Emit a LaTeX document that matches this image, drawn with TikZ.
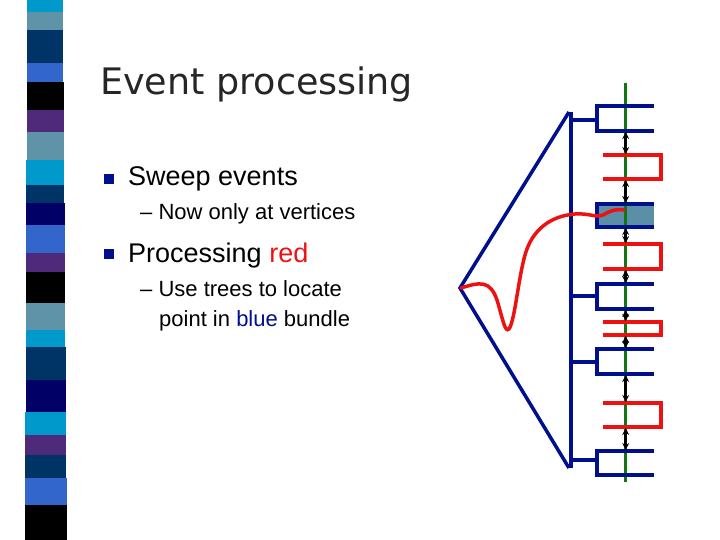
\documentclass[tikz,border=0pt]{standalone}
\usepackage{fontspec}
\usetikzlibrary{arrows.meta}
\setmainfont{Liberation Sans}
\newfontfamily\ttl{DejaVu Sans}
\definecolor{cA}{HTML}{0099CC}\definecolor{cB}{HTML}{5F93A8}\definecolor{cC}{HTML}{003366}
\definecolor{cD}{HTML}{3366CC}\definecolor{cE}{HTML}{000000}\definecolor{cF}{HTML}{4F2A7A}
\definecolor{cG}{HTML}{000066}
\definecolor{bl}{HTML}{000F8C}\definecolor{rd}{HTML}{EE1111}\definecolor{gr}{HTML}{117711}
\definecolor{fillb}{HTML}{5B8FA8}
\begin{document}
\begin{tikzpicture}[x=1pt,y=-1pt,
 bx/.style={draw=bl,line width=3.5pt},
 rx/.style={draw=rd,line width=3.5pt},
 dar/.style={black,line width=2.5pt,{Stealth[length=7pt,width=7pt]}-{Stealth[length=7pt,width=7pt]}},
 txt/.style={anchor=base west,inner sep=0pt}]
\useasboundingbox (0,0) rectangle (720,540);
% stripes
\foreach \a/\b/\c in {0/12/cA,12/30/cB,30/63/cC,63/82/cD,82/110/cE,110/132/cF,132/160/cB,160/185/cA,185/203/cC,203/225/cG,225/253/cD,253/272/cF,272/303/cE,303/330/cB,330/347/cA,347/380/cC,380/412/cG,412/435/cA,435/455/cF,455/478/cC,478/505/cD,505/540/cE}
 \fill[\c] ({27-2*\a/540},\a) rectangle ({63+4*\a/540},\b+0.5);
% text
\node[txt,font=\ttl\fontsize{36.5}{40}\selectfont,text=black!85] (title) at (100,95) {Event processing};
\fill[bl] (104,174) rectangle (114,184);
\node[txt,font=\fontsize{27}{31}\selectfont] (t1) at (128,186) {Sweep events};
\node[txt,font=\fontsize{22}{26}\selectfont] (t2) at (140,220) {– Now only at vertices};
\fill[bl] (104,249) rectangle (114,259);
\node[txt,font=\fontsize{27}{31}\selectfont] (t3) at (128,262) {Processing \textcolor{rd}{red}};
\node[txt,font=\fontsize{22}{26}\selectfont] (t4) at (140,296) {– Use trees to locate};
\node[txt,font=\fontsize{22}{26}\selectfont] (t5) at (159,326) {point in \textcolor{bl}{blue} bundle};
% diagram
\fill[fillb] (597,204) rectangle (654,227);
\draw[gr,line width=3.5pt] (625.7,83) -- (625.7,482);
\draw[bx,line join=miter] (569,112) -- (460,288) -- (569,468);
\draw[bx] (571,112) -- (571,468);
\foreach \y in {120,296,362,460} \draw[bx] (571,\y) -- (597,\y);
\foreach \t/\b in {106/131,204/227,284/309,349/374,451/475}
 \draw[bx] (654,\t) -- (597,\t) -- (597,\b) -- (654,\b);
\foreach \t/\b in {155/179,244/269,322/335,403/427}
 \draw[rx] (603,\t) -- (661,\t) -- (661,\b) -- (603,\b);
\foreach \t/\b in {131/155,179/204,227/244,269/284,309/322,335/349,374/403,427/451}
 \draw[dar] (625.7,\t+1) -- (625.7,\b-1);
\draw[rd,line width=3.5pt,line cap=round] (461,288) .. controls (480,282) and (490,280) .. (497,300)
 .. controls (503,320) and (505,333) .. (509,329)
 .. controls (515,320) and (518,280) .. (525,255)
 .. controls (532,230) and (550,216) .. (575,214)
 .. controls (590,213) and (595,218) .. (603,215)
 .. controls (612,210) and (615,209) .. (624,210);
\end{tikzpicture}
\end{document}
